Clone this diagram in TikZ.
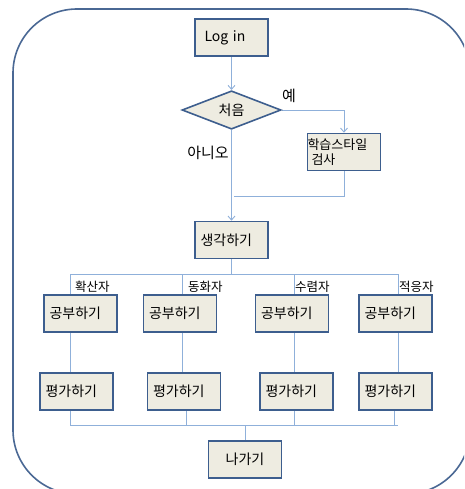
\documentclass[tikz,border=0pt]{standalone}
\usepackage{fontspec}
\setmainfont{Noto Sans CJK KR}
\usetikzlibrary{shapes.geometric,arrows.meta,backgrounds}
\definecolor{boxfill}{HTML}{EEECE1}
\definecolor{boxline}{HTML}{3D5E8E}
\definecolor{connc}{HTML}{8FB0DA}
\definecolor{framec}{HTML}{4A6894}
\begin{document}
\begin{tikzpicture}[x=1pt,y=-1pt,
  boxn/.style={draw=boxline, line width=1.6pt, fill=boxfill, minimum width=73pt, minimum height=37pt, inner sep=0pt, text width=62pt, align=left, font=\fontsize{14}{16}\selectfont},
  decide/.style={diamond, draw=boxline, line width=1.6pt, fill=boxfill, minimum width=99pt, minimum height=36pt, inner sep=0pt, font=\fontsize{14}{16}\selectfont},
  connl/.style={draw=connc, line width=0.9pt},
  arr/.style={connl, -{Straight Barb[length=4pt,width=7pt]}},
  lbl/.style={font=\fontsize{12.5}{14}\selectfont, inner sep=0pt, anchor=west},
  biglbl/.style={font=\fontsize{15}{17}\selectfont, inner sep=0pt}]
\useasboundingbox (0,0) rectangle (464,489);
\begin{scope}
\clip (0,0) rectangle (464,489);
\draw[framec, line width=1.6pt, rounded corners=64pt] (13,9) rectangle (470,494);
\end{scope}

% nodes
\node[boxn, text width=54pt] (login) at (231.5,37.5) {Log in};
\node[decide] (first) at (231.5,110) {처음};
\node[boxn, text width=73pt, font=\fontsize{13}{16}\selectfont] (test) at (344,152) {학습스타일\\[-1pt]\hspace*{4pt}검사};
\node[boxn] (think) at (231.5,240) {생각하기};

\node[boxn] (s1) at (80.5,313.5) {공부하기};
\node[boxn] (s2) at (180,313.5) {공부하기};
\node[boxn] (s3) at (292,313.5) {공부하기};
\node[boxn] (s4) at (395.5,313.5) {공부하기};

\node[boxn] (e1) at (76.5,391.5) {평가하기};
\node[boxn] (e2) at (184,391.5) {평가하기};
\node[boxn] (e3) at (296.5,391.5) {평가하기};
\node[boxn] (e4) at (395.5,391.5) {평가하기};

\node[boxn, align=center] (exit) at (245,459.5) {나가기};

% labels
\node[biglbl] (yes) at (289,96) {예};
\node[biglbl] (no) at (208,153) {아니오};
\node[lbl] (l1) at (75,287) {확산자};
\node[lbl] (l2) at (188,287) {동화자};
\node[lbl] (l3) at (295,287) {수렴자};
\node[lbl] (l4) at (399,287) {적응자};

% bus coordinates
\coordinate (tb) at (231.5,274);
\coordinate (bb) at (245,425);
\coordinate (join) at (234,196);

\begin{scope}[on background layer]
\draw[arr] (login.south) -- (first.north);
\draw[arr] (first.east) -| (test.north);
\draw[connl] (test.south) |- (join);
\draw[arr] (first.south) -- (think.north);

\draw[connl] (think.south) -- (tb);
\draw[connl] (70,274) coordinate (tl) -- (398,274) coordinate (tr);
\draw[connl] (tl) -- (tl |- bb);
\draw[connl] (182,274) coordinate (t2) -- (t2 |- e2.north);
\draw[connl] (e2.south -| 186,0) -- (186,425);
\draw[connl] (294,274) coordinate (t3) -- (294,425);
\draw[connl] (tr) -- (tr |- e4.north);
\draw[connl] (e4.south -| 394,0) -- (394,425);
\draw[connl] (tl |- bb) -- (398,425);
\draw[connl] (bb) -- (exit.north);
\end{scope}
\end{tikzpicture}
\end{document}
